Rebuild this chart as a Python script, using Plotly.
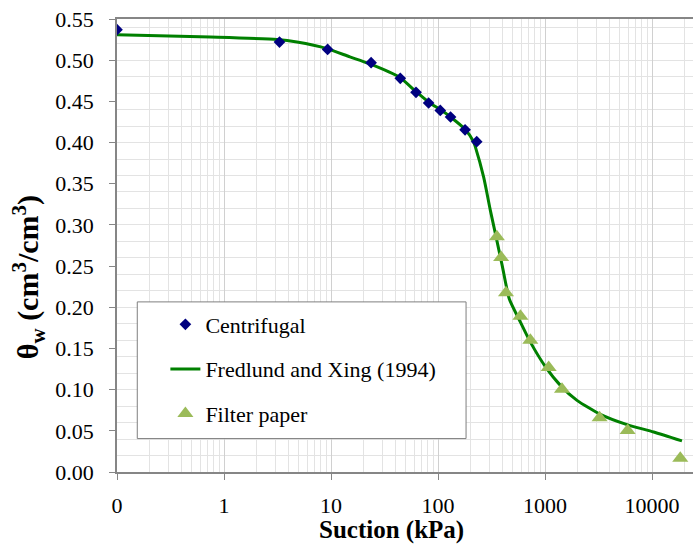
import plotly.graph_objects as go

# Centrifugal test results (suction in kPa, volumetric water content)
centrifugal_suction = [0.1, 3.3, 9.3, 23.7, 44.4, 62.3, 81.7, 105, 131, 179, 230]
centrifugal_theta = [0.537, 0.522, 0.513, 0.497, 0.478, 0.461, 0.448, 0.439, 0.431, 0.4155, 0.401]

# Filter paper test results
filter_suction = [355, 389, 432, 589, 729, 1082, 1442, 3237, 5914, 18370]
filter_theta = [0.2855, 0.2604, 0.2175, 0.189, 0.160, 0.127, 0.1005, 0.066, 0.0504, 0.0168]

# Fredlund and Xing (1994) fitted SWCC, sampled along the curve
fx_suction = [0.1, 0.75, 3.13, 4.8, 9.2, 15, 22.5, 44, 62, 82, 105, 131, 179, 215, 223,
              267, 308, 343, 399, 464, 589, 728, 1007, 1419, 1990, 3290, 5840, 10350, 19050]
fx_theta = [0.531, 0.528, 0.525, 0.522, 0.514, 0.504, 0.496, 0.479, 0.462, 0.449, 0.440,
            0.431, 0.416, 0.401, 0.395, 0.358, 0.318, 0.290, 0.250, 0.210, 0.182, 0.158,
            0.128, 0.104, 0.087, 0.070, 0.0575, 0.0486, 0.0378]

# Axis ticks
x_tickvals = [0.1, 1, 10, 100, 1000, 10000]
x_ticktext = ["0", "1", "10", "100", "1000", "10000"]
y_tickvals = [0.00, 0.05, 0.10, 0.15, 0.20, 0.25, 0.30, 0.35, 0.40, 0.45, 0.50, 0.55]

FONT = "Liberation Serif"
AXIS_COLOR = "#868686"
GRID_MINOR = "#E3E3E3"
GRID_MAJOR = "#D0D0D0"

fig = go.Figure()

fig.add_trace(go.Scatter(
    x=fx_suction, y=fx_theta, mode="lines", name="Fredlund and Xing (1994)",
    line=dict(color="#008000", width=3, shape="spline", smoothing=0.6),
    legendgroup="b", legendrank=2,
))
fig.add_trace(go.Scatter(
    x=centrifugal_suction, y=centrifugal_theta, mode="markers", name="Centrifugal",
    marker=dict(symbol="diamond", size=9, color="#000080"),
    legendgroup="a", legendrank=1,
))
fig.add_trace(go.Scatter(
    x=filter_suction, y=filter_theta, mode="markers", name="Filter paper",
    marker=dict(symbol="triangle-up", size=14, color="#9BBB59"),
    legendgroup="c", legendrank=3,
))

fig.update_layout(
    width=693, height=545,
    margin=dict(l=117, r=0, t=19, b=73),
    paper_bgcolor="white", plot_bgcolor="white",
    font=dict(family=FONT, size=22, color="black"),
    showlegend=True,
    legend=dict(
        x=0.084, y=0.372, xanchor="left", yanchor="top",
        bgcolor="rgba(0,0,0,0)", borderwidth=0,
        font=dict(family=FONT, size=22, color="black"),
        tracegroupgap=13, traceorder="grouped",
    ),
    shapes=[dict(
        type="rect", xref="paper", yref="paper",
        x0=0.0352, x1=0.606, y0=0.0738, y1=0.3755,
        fillcolor="white", line=dict(color="#7F7F7F", width=1), layer="above",
    )],
    annotations=[
        dict(text="<b>Suction (kPa)</b>", xref="paper", yref="paper",
             x=0.477, y=-0.129, xanchor="center", yanchor="middle",
             showarrow=False, font=dict(family=FONT, size=25)),
        dict(text="<b>θ<sub>w</sub> (cm<sup>3</sup>/cm<sup>3</sup>)</b>",
             xref="paper", yref="paper", x=-0.1545, y=0.43,
             xanchor="center", yanchor="middle", textangle=-90,
             showarrow=False, font=dict(family=FONT, size=30)),
    ],
)

fig.update_xaxes(
    type="log", range=[-1, 4.383],
    tickvals=x_tickvals, ticktext=x_ticktext,
    ticks="outside", ticklen=6, tickcolor=AXIS_COLOR,
    showline=True, linecolor=AXIS_COLOR, linewidth=1.5, mirror=True,
    showgrid=True, gridcolor=GRID_MAJOR, gridwidth=1,
    minor=dict(dtick="D1", showgrid=True, gridcolor=GRID_MINOR, ticks=""),
    zeroline=False, ticklabelstandoff=7,
)
fig.update_yaxes(
    range=[0, 0.55],
    tickvals=y_tickvals, tickformat=".2f",
    ticks="outside", ticklen=6, tickcolor=AXIS_COLOR,
    showline=True, linecolor=AXIS_COLOR, linewidth=1.5,
    showgrid=False,
    minor=dict(tick0=0, dtick=0.02, showgrid=True, gridcolor=GRID_MINOR, ticks=""),
    zeroline=False, ticklabelstandoff=11,
)

fig.write_html("out.html")
